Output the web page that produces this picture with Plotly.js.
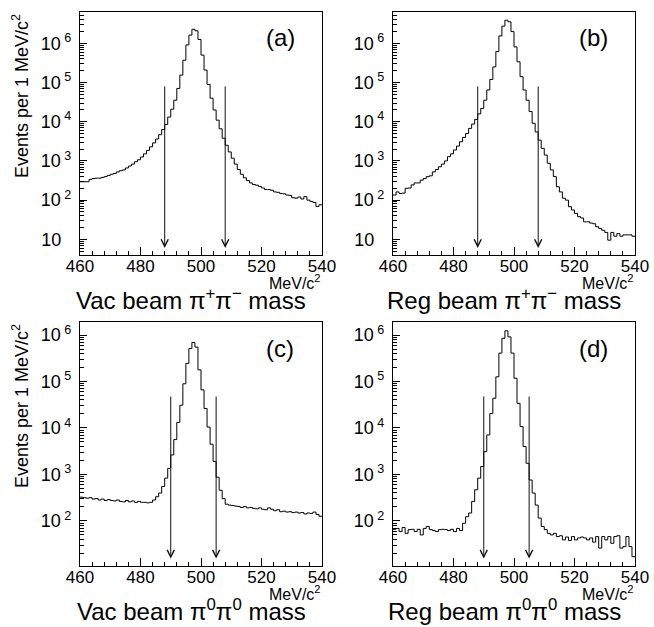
<!DOCTYPE html>
<html><head><meta charset="utf-8">
<script src="https://cdn.plot.ly/plotly-3.0.1.min.js"></script>
<style>html,body{margin:0;padding:0;background:#fff}#chart{width:654px;height:627px}</style>
</head><body><div id="chart"></div>
<script>
// Histogram definition: 80 bins of 1 MeV/c^2 from 460 to 540
const BIN_START = 460, BIN_WIDTH = 1, N_BINS = 80;
const binLowEdges = Array.from({length: N_BINS}, (_, i) => BIN_START + i * BIN_WIDTH);

// (a) Vacuum beam pi+pi- mass, events per bin
const vacChargedCounts = [
 295,295,295,339,355,363,363,380,398,427,
 457,479,525,562,589,661,741,832,955,1072,
 1259,1514,1862,2291,2884,3631,4677,6310,8511,13183,
 20893,35481,70795,154882,371535,912011,1621810,2290868,2089296,1258925,
 501187,208930,89125,39811,19953,10965,6607,3802,2512,1698,
 1175,832,603,457,372,316,275,251,240,224,
 204,186,186,178,162,158,148,145,135,132,
 115,112,120,107,123,100,93,87,69,76];

// (b) Regenerator beam pi+pi- mass
const regChargedCounts = [
 135,162,148,151,200,204,245,275,275,324,
 355,398,417,525,603,708,832,1000,1288,1514,
 1905,2399,3090,3981,5012,6761,8710,11482,15849,21878,
 35481,64565,120226,251189,616595,1548817,2754229,3890451,3548134,1995262,
 812831,338844,141254,64565,35481,18197,9120,5495,3388,2089,
 1413,871,589,398,219,162,112,100,68,56,
 46,38,35,28,28,26,25,21,19,17,
 15,9.5,15,12,14,12,13,13,13,12];

// (c) Vacuum beam pi0pi0 mass
const vacNeutralCounts = [
 324,316,309,316,295,302,282,295,275,288,
 275,269,282,263,257,275,257,269,251,263,
 251,251,245,251,282,331,398,550,832,1349,
 2630,5623,13183,30903,89125,245471,512861,691831,549541,177828,
 66069,26303,10471,4467,1905,871,457,302,229,219,
 214,209,204,195,204,191,195,186,182,191,
 178,174,191,178,166,174,158,162,155,158,
 151,155,148,151,141,148,145,155,138,126];

// (d) Regenerator beam pi0pi0 mass
const regNeutralCounts = [
 66,69,59,72,54,65,66,59,66,50,
 69,76,65,62,59,65,66,65,62,66,
 59,69,62,89,123,148,263,468,832,1479,
 3090,7079,20417,43652,125893,407380,851138,1230269,912011,407380,
 117490,33884,10715,3981,1738,759,398,219,115,76,
 65,54,50,54,46,48,39,45,38,46,
 39,43,45,43,39,43,35,46,26,46,
 39,46,33,46,48,26,28,46,28,17];

const panelLabels = ['(a)', '(b)', '(c)', '(d)'];
const xTitles = [
  'Vac beam \u03c0<sup>+</sup>\u03c0<sup>\u2212</sup> mass',
  'Reg beam \u03c0<sup>+</sup>\u03c0<sup>\u2212</sup> mass',
  'Vac beam \u03c0<sup>0</sup>\u03c0<sup>0</sup> mass',
  'Reg beam \u03c0<sup>0</sup>\u03c0<sup>0</sup> mass'];
const xUnit = 'MeV/c<sup>2</sup>';
const yTitle = 'Events per 1 MeV/c<sup>2</sup>';
const cutsCharged = [488, 508];
const cutsNeutral = [490, 505];
const xTickVals = [460, 480, 500, 520, 540];
const yTickVals = [10, 100, 1000, 10000, 100000, 1000000];
const yTickText = ['10\u00a0\u00a0', '10<sup>\u00a02</sup>', '10<sup>\u00a03</sup>', '10<sup>\u00a04</sup>', '10<sup>\u00a05</sup>', '10<sup>\u00a06</sup>'];

const W = 654, H = 627;
const FONT = 'Liberation Sans, Arial, Helvetica, sans-serif';
const px = x => x / W;
const py = y => 1 - y / H;

const minorVals = [];
for (let k = 0; k <= 6; k++) for (let m = 2; m <= 9; m++) minorVals.push(m * Math.pow(10, k));

// Panel frames in pixels [left, right, top, bottom]
const frames = [[80, 322, 12, 255], [393, 635, 12, 255], [80, 322, 322, 566], [393, 635, 322, 566]];
const yRanges = [[0.6, 6.8], [0.6, 6.8], [1.03, 6.28], [1.03, 6.28]];
const datasets = [vacChargedCounts, regChargedCounts, vacNeutralCounts, regNeutralCounts];
const cuts = [cutsCharged, cutsCharged, cutsNeutral, cutsNeutral];
const arrowTop = [4.94, 4.94, 4.71, 4.71];   // log10 of arrow start
const arrowTip = [0.78, 0.78, 1.19, 1.19];   // log10 of arrow tip

const traces = [];
const layout = {
  width: W, height: H, margin: {l: 0, r: 0, t: 0, b: 0},
  paper_bgcolor: '#fff', plot_bgcolor: '#fff', showlegend: false,
  font: {family: FONT, color: '#000'},
  annotations: []
};

datasets.forEach((vals, i) => {
  const n = i + 1, sfx = n === 1 ? '' : String(n);
  const xa = 'x' + sfx, ya = 'y' + sfx;
  const [l, r, t, b] = frames[i];
  traces.push({
    type: 'scatter', mode: 'lines',
    x: binLowEdges.concat([BIN_START + N_BINS * BIN_WIDTH]),
    y: vals.concat([vals[vals.length - 1]]),
    line: {shape: 'hv', color: '#000', width: 1},
    xaxis: xa, yaxis: ya, hoverinfo: 'skip'
  });
  layout['xaxis' + sfx] = {
    domain: [px(l), px(r)], anchor: ya, range: [460, 540],
    tickmode: 'array', tickvals: xTickVals, ticks: 'inside', ticklen: 8, tickwidth: 1, tickcolor: '#000',
    minor: {dtick: 4, tick0: 460, ticks: 'inside', ticklen: 4, tickwidth: 1, tickcolor: '#000'},
    showline: true, mirror: true, linecolor: '#000', linewidth: 1,
    showgrid: false, zeroline: false, tickfont: {size: 17, family: FONT, color: '#000'},
    ticklabelstandoff: -4
  };
  layout['yaxis' + sfx] = {
    domain: [py(b), py(t)], anchor: xa, type: 'log', range: yRanges[i],
    tickmode: 'array', tickvals: yTickVals, ticktext: yTickText,
    ticks: 'inside', ticklen: 7, tickwidth: 1, tickcolor: '#000',
    minor: {tickmode: 'array', tickvals: minorVals, ticks: 'inside', ticklen: 4, tickwidth: 1, tickcolor: '#000'},
    showline: true, mirror: true, linecolor: '#000', linewidth: 1,
    showgrid: false, zeroline: false, tickfont: {size: 18, family: FONT, color: '#000'},
    ticklabelstandoff: 4
  };
  // panel label
  layout.annotations.push({xref: 'paper', yref: 'paper', x: px(r - 42), y: py(t + 26),
    text: panelLabels[i], showarrow: false, xanchor: 'center', yanchor: 'middle',
    font: {size: 24, family: FONT, color: '#000'}});
  // unit label
  layout.annotations.push({xref: 'paper', yref: 'paper', x: px(r + 1), y: py(b + 27),
    text: xUnit, showarrow: false, xanchor: 'right', yanchor: 'middle',
    font: {size: 16, family: FONT, color: '#000'}});
  // x title
  layout.annotations.push({xref: 'paper', yref: 'paper', x: px((l + r) / 2 - 10), y: py(b + 44),
    text: xTitles[i], showarrow: false, xanchor: 'center', yanchor: 'middle',
    font: {size: 24, family: FONT, color: '#000'}});
  // y title on left panels
  if (i % 2 === 0) {
    layout.annotations.push({xref: 'paper', yref: 'paper', x: px(20), y: py(t + 84),
      text: yTitle, showarrow: false, textangle: -90, xanchor: 'center', yanchor: 'middle',
      font: {size: 18, family: FONT, color: '#000'}});
  }
  // cut arrows
  cuts[i].forEach(c => {
    layout.annotations.push({xref: xa, yref: ya, x: c, y: arrowTip[i],
      axref: xa, ayref: ya, ax: c, ay: arrowTop[i], text: '', showarrow: true,
      arrowhead: 5, arrowsize: 1.4, arrowwidth: 1, arrowcolor: '#111', standoff: 0});
  });
});

Plotly.newPlot('chart', traces, layout, {displayModeBar: false, staticPlot: true});
</script>
</body></html>
